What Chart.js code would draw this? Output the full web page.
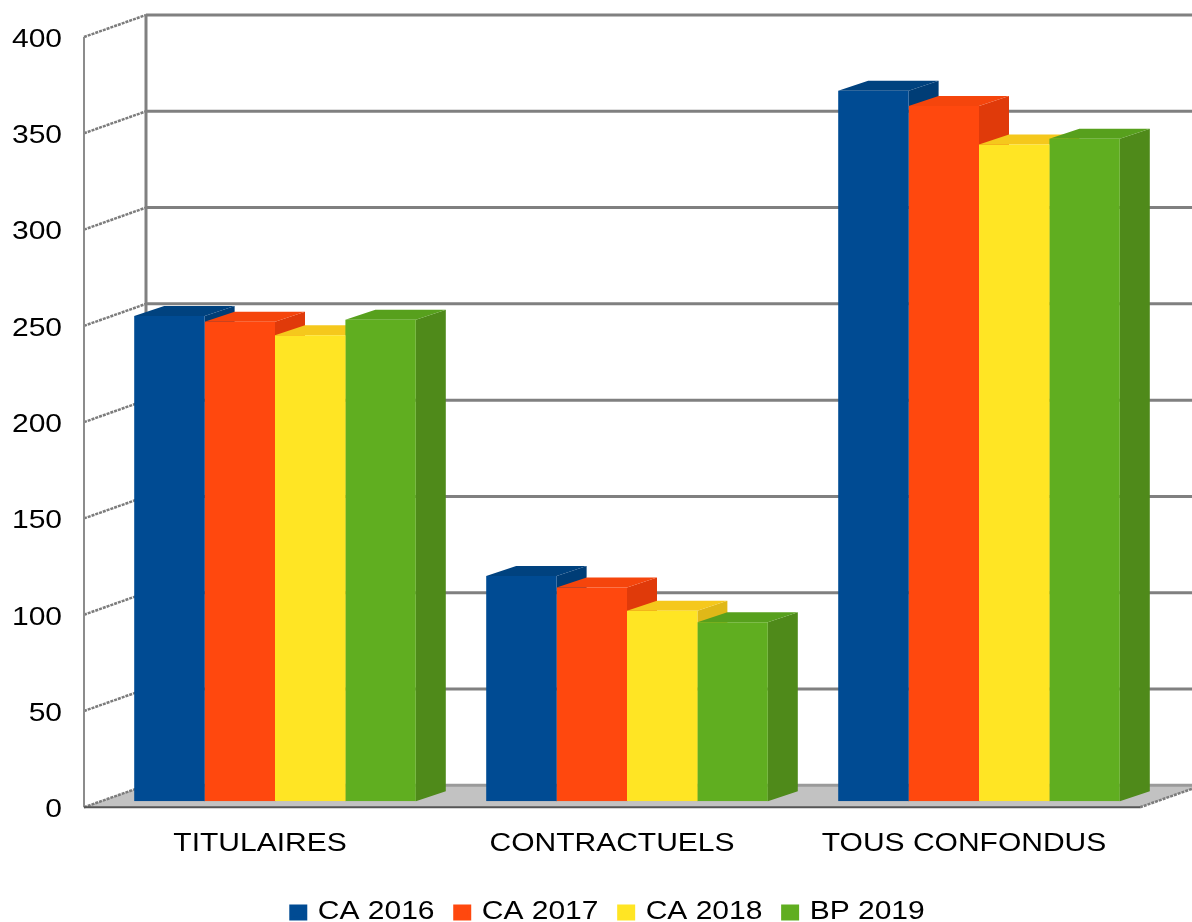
<!DOCTYPE html>
<html>
<head>
<meta charset="utf-8">
<title>Effectifs</title>
<script src="https://cdn.jsdelivr.net/npm/chart.js@4/dist/chart.umd.min.js"></script>
<style>
  html, body { margin: 0; padding: 0; background: #fff; overflow: hidden; }
  canvas { display: block; }
</style>
</head>
<body>
<canvas id="chart" width="1192" height="922"></canvas>
<script>
const categories = ['TITULAIRES', 'CONTRACTUELS', 'TOUS CONFONDUS'];
const seriesNames = ['CA 2016', 'CA 2017', 'CA 2018', 'BP 2019'];
const ca2016 = [252, 117, 369];
const ca2017 = [249, 111, 361];
const ca2018 = [242, 99, 341];
const bp2019 = [250, 93, 344];

const frontColors = ['#004b93', '#ff480e', '#ffe524', '#60ae20'];
const topColors = ['#00427f', '#f5450c', '#f5c81c', '#57a01d'];
const sideColors = ['#003d76', '#e03a0a', '#e0b818', '#4f8a1a'];

// depth of the box (wall behind the plot) and of the bars inside it
const boxDepth = { x: 62, y: -22 };
const barOffset = { x: 15, y: -6 };
const barDepth = { x: 30, y: -10 };
const textStretch = 1.2; // the labels are set wider than the normal font

const canvas = document.getElementById('chart');
const ctx = canvas.getContext('2d');

// wide lettering: stretch every label around its anchor
const plainFillText = ctx.fillText.bind(ctx);
const plainMeasureText = ctx.measureText.bind(ctx);
ctx.fillText = function (text, x, y) {
  ctx.save();
  ctx.translate(x, y);
  ctx.scale(textStretch, 1);
  plainFillText(text, 0, 0);
  ctx.restore();
};
ctx.measureText = function (text) {
  return { width: plainMeasureText(text).width * textStretch };
};

function polygon(c, points, fill) {
  c.beginPath();
  c.moveTo(points[0][0], points[0][1]);
  points.slice(1).forEach(p => c.lineTo(p[0], p[1]));
  c.closePath();
  c.fillStyle = fill;
  c.fill();
}

function line(c, x1, y1, x2, y2, color, width, dash) {
  c.beginPath();
  c.setLineDash(dash || []);
  c.moveTo(x1, y1);
  c.lineTo(x2, y2);
  c.strokeStyle = color;
  c.lineWidth = width;
  c.stroke();
  c.setLineDash([]);
}

// floor, back wall and grid lines
const boxPlugin = {
  id: 'box',
  beforeDatasetsDraw(chart) {
    const c = chart.ctx;
    const y = chart.scales.y;
    const x = chart.scales.x;
    const zero = y.getPixelForValue(0);
    const top = y.getPixelForValue(400);
    const backX = x.left + boxDepth.x;
    const wallRight = x.right + boxDepth.x;

    polygon(c, [[x.left, zero], [x.right, zero], [wallRight, zero + boxDepth.y], [backX, zero + boxDepth.y]], '#c2c2c2');

    y.ticks.forEach(tick => {
      const py = y.getPixelForValue(tick.value);
      line(c, x.left, py, backX, py + boxDepth.y, '#7c7c7c', 2.5, [3, 1]);
      line(c, backX, py + boxDepth.y, wallRight, py + boxDepth.y, tick.value === 0 ? '#9a9a9a' : '#808080', 3);
    });
    line(c, backX, top + boxDepth.y, backX, zero + boxDepth.y, '#808080', 3);
    line(c, x.left, top, x.left, zero, '#8c8c8c', 2);
    line(c, x.right, zero, wallRight, zero + boxDepth.y, '#7c7c7c', 2.5, [3, 1]);
    line(c, x.left, zero, x.right, zero, '#555555', 2);
  }
};

// top and side faces of the bars, the front faces are the bar elements themselves
const barFacesPlugin = {
  id: 'barFaces',
  beforeDatasetsDraw(chart) {
    const c = chart.ctx;
    c.save();
    c.translate(barOffset.x, barOffset.y);
    chart.data.datasets.forEach((ds, i) => {
      chart.getDatasetMeta(i).data.forEach(bar => {
        const left = bar.x - bar.width / 2;
        const right = bar.x + bar.width / 2;
        polygon(c, [[right, bar.y], [right + barDepth.x, bar.y + barDepth.y],
          [right + barDepth.x, bar.base + barDepth.y], [right, bar.base]], sideColors[i]);
        polygon(c, [[left, bar.y], [right, bar.y],
          [right + barDepth.x, bar.y + barDepth.y], [left + barDepth.x, bar.y + barDepth.y]], topColors[i]);
      });
    });
    c.restore();
    c.save();
    c.translate(barOffset.x, barOffset.y);
  },
  afterDatasetsDraw(chart) {
    chart.ctx.restore();
  }
};

// legend sits lower and a little right of the canvas centre
const legendPlacePlugin = {
  id: 'legendPlace',
  afterLayout(chart) {
    const legend = chart.legend;
    legend.top += 13;
    legend.bottom += 13;
    legend.left += 38;
    legend.right += 38;
  }
};

const seriesValues = [ca2016, ca2017, ca2018, bp2019];

new Chart(ctx, {
  type: 'bar',
  data: {
    labels: categories,
    datasets: seriesNames.map((name, i) => ({
      label: name,
      data: seriesValues[i],
      backgroundColor: frontColors[i],
      borderWidth: 0,
      categoryPercentage: 0.8,
      barPercentage: 1
    }))
  },
  options: {
    responsive: false,
    animation: false,
    devicePixelRatio: 1,
    layout: { padding: { top: 37, right: 52, left: 0, bottom: 0 } },
    plugins: {
      tooltip: { enabled: false },
      title: { display: false },
      legend: {
        position: 'bottom',
        labels: {
          color: '#000',
          font: { family: 'Liberation Sans', size: 25 },
          boxWidth: 14,
          boxHeight: 12,
          padding: 20.7,
          generateLabels(chart) {
            return Chart.defaults.plugins.legend.labels.generateLabels(chart).map((item, i) => {
              item.strokeStyle = frontColors[i];
              item.lineWidth = 4;
              return item;
            });
          }
        }
      }
    },
    scales: {
      x: {
        grid: { display: false },
        border: { display: false },
        afterFit(scale) { scale.height = 59; },
        ticks: {
          color: '#000',
          font: { family: 'Liberation Sans', size: 25 },
          autoSkip: false,
          maxRotation: 0,
          padding: 14
        }
      },
      y: {
        min: 0,
        max: 400,
        grid: { display: false },
        border: { display: false },
        afterFit(scale) { scale.width = 84; },
        ticks: {
          stepSize: 50,
          color: '#000',
          font: { family: 'Liberation Sans', size: 25 },
          padding: 14,
          labelOffset: 3
        }
      }
    }
  },
  plugins: [boxPlugin, barFacesPlugin, legendPlacePlugin]
});
</script>
</body>
</html>
